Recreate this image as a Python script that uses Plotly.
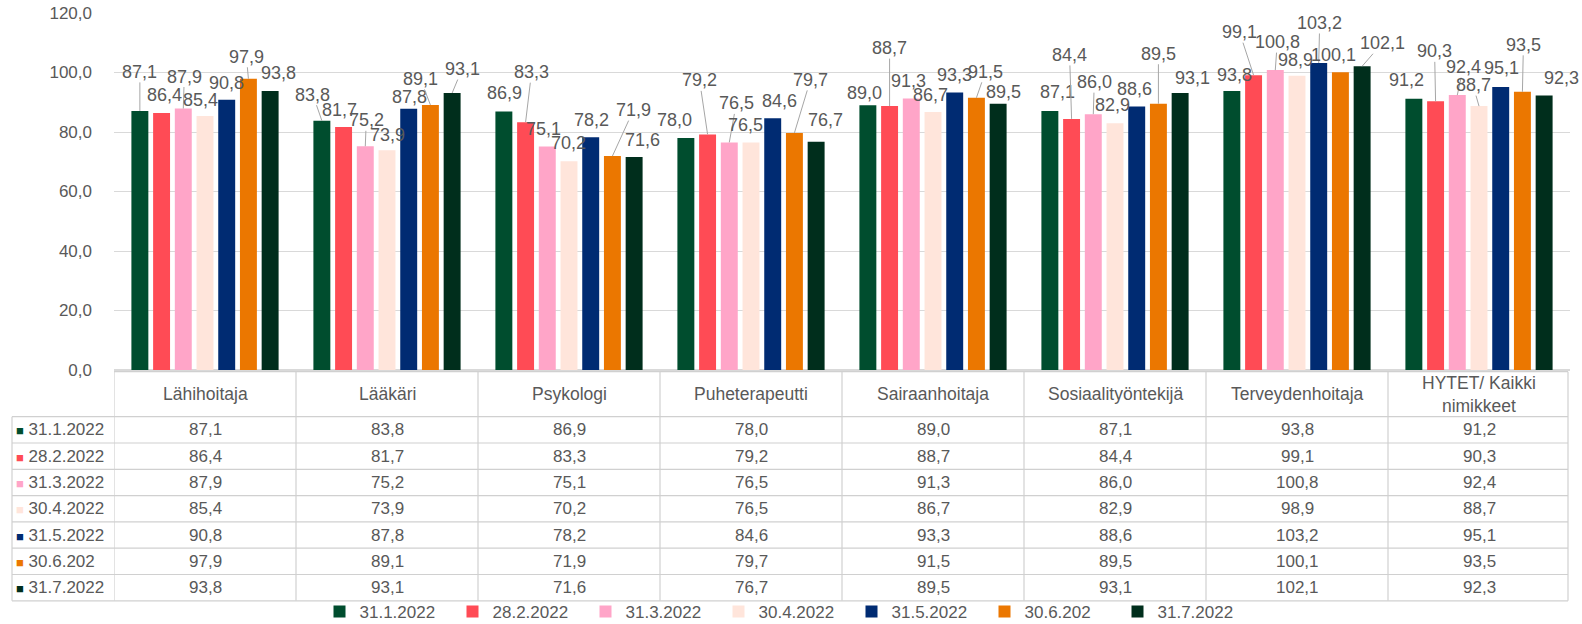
import plotly.graph_objects as go

# ---------------- data ----------------
categories = ["Lähihoitaja", "Lääkäri", "Psykologi", "Puheterapeutti", "Sairaanhoitaja",
              "Sosiaalityöntekijä", "Terveydenhoitaja", "HYTET/ Kaikki nimikkeet"]
header_labels = ["Lähihoitaja", "Lääkäri", "Psykologi", "Puheterapeutti", "Sairaanhoitaja",
                 "Sosiaalityöntekijä", "Terveydenhoitaja", "HYTET/ Kaikki<br>nimikkeet"]
series_names = ["31.1.2022", "28.2.2022", "31.3.2022", "30.4.2022", "31.5.2022", "30.6.202", "31.7.2022"]
v_jan = [87.1, 83.8, 86.9, 78.0, 89.0, 87.1, 93.8, 91.2]
v_feb = [86.4, 81.7, 83.3, 79.2, 88.7, 84.4, 99.1, 90.3]
v_mar = [87.9, 75.2, 75.1, 76.5, 91.3, 86.0, 100.8, 92.4]
v_apr = [85.4, 73.9, 70.2, 76.5, 86.7, 82.9, 98.9, 88.7]
v_may = [90.8, 87.8, 78.2, 84.6, 93.3, 88.6, 103.2, 95.1]
v_jun = [97.9, 89.1, 71.9, 79.7, 91.5, 89.5, 100.1, 93.5]
v_jul = [93.8, 93.1, 71.6, 76.7, 89.5, 93.1, 102.1, 92.3]
series_values = [v_jan, v_feb, v_mar, v_apr, v_may, v_jun, v_jul]
y_ticks = [0, 20, 40, 60, 80, 100, 120]

# ---------------- style ----------------
colors = ["#004D2E", "#FF4B55", "#FFA5C8", "#FFE5DB", "#002B72", "#EB7700", "#002E1C"]
TXT = "#595959"
GRID = "#D9D9D9"
FONT = "Liberation Sans, Arial, sans-serif"

# data-label placement (pixel offsets of label centre from bar top), per category then series
LABEL_DX = [[0, 3, 1, -5, 0, -2, 8], [-9, -4, 1, 0, 1, -10, 10], [1, 6, -4, -1, 1, 21, 8],
            [-11, -8, 7, -6, 7, 16, 9], [-3, 0, -3, -3, 0, 9, 5], [8, -2, 1, -3, -2, 0, 12],
            [3, -14, 2, -2, 1, -7, 20], [-7, -1, 6, -6, 1, 1, 17]]
LABEL_DY = [[-39, -18, -32, -16, -17, -22, -18], [-26, -17, -26, -15, -12, -26, -24],
            [-18, -50, -18, -18, -17, -46, -17], [-18, -54, -39, -17, -17, -53, -22],
            [-12, -58, -17, -17, -17, -26, -12], [-19, -64, -32, -18, -17, -50, -15],
            [-16, -43, -28, -16, -40, -17, -23], [-19, -50, -28, -21, -19, -47, -17]]
LEADER = [[1, 0, 1, 0, 0, 1, 0], [1, 0, 1, 0, 0, 1, 1], [0, 1, 0, 0, 0, 1, 0],
          [0, 1, 1, 0, 0, 1, 0], [0, 1, 0, 0, 0, 1, 0], [0, 1, 1, 0, 0, 1, 0],
          [0, 1, 1, 0, 1, 0, 1], [0, 1, 1, 1, 0, 1, 0]]

W, H = 1582, 624
ML, MR, MT, MB = 114, 12, 13, 254
PW, PH = W - ML - MR, H - MT - MB
BARGAP, BARGROUPGAP = 0.165, 0.22


def fmt(v):
    return f"{v:.1f}".replace(".", ",")


def px_x(X):
    return (X - ML) / PW


def px_y(Y):
    return (H - MB - Y) / PH


fig = go.Figure()
n = len(series_names)
for i, (name, vals) in enumerate(zip(series_names, series_values)):
    fig.add_trace(go.Bar(x=list(range(len(categories))), y=vals, name=name,
                         marker=dict(color=colors[i], line=dict(width=0)),
                         hovertext=categories, hoverinfo="text+y+name"))

annotations = []
slot = (1 - BARGAP) / n
for i, vals in enumerate(series_values):
    for k, v in enumerate(vals):
        xb = k + (i - (n - 1) / 2) * slot
        dx, dy = LABEL_DX[k][i], LABEL_DY[k][i]
        base = dict(x=xb, y=v, xref="x", yref="y", text=fmt(v),
                    font=dict(size=18, color=TXT, family=FONT))
        if LEADER[k][i]:
            annotations.append(dict(**base, showarrow=True, arrowhead=0, arrowwidth=1,
                                    arrowcolor="#A6A6A6", ax=dx, ay=dy, standoff=0,
                                    startstandoff=0, borderpad=0))
        else:
            annotations.append(dict(**base, showarrow=False, xshift=dx, yshift=-dy,
                                    yanchor="middle"))

# ---------------- data table below the plot ----------------
head_top, head_bot = 371.7, 416.7
row_h = 26.3
row_lines = [head_bot + r * row_h for r in range(n + 1)]
label_left = 12
right_edge = ML + PW - 2
shapes = []
lc = dict(color="#D0D0D0", width=1.2)
shapes.append(dict(type="line", xref="paper", yref="paper", x0=px_x(ML), x1=px_x(right_edge),
                   y0=px_y(head_top), y1=px_y(head_top), line=lc))
for Y in row_lines:
    shapes.append(dict(type="line", xref="paper", yref="paper", x0=px_x(label_left),
                       x1=px_x(right_edge), y0=px_y(Y), y1=px_y(Y), line=lc))
shapes.append(dict(type="line", xref="paper", yref="paper", x0=px_x(label_left), x1=px_x(label_left),
                   y0=px_y(head_bot), y1=px_y(row_lines[-1]), line=lc))
for k in range(len(categories)):
    shapes.append(dict(type="line", xref="x", yref="paper", x0=k - 0.5, x1=k - 0.5,
                       y0=px_y(head_top), y1=px_y(row_lines[-1]), line=lc))
shapes.append(dict(type="line", xref="paper", yref="paper", x0=px_x(right_edge), x1=px_x(right_edge),
                   y0=px_y(head_top), y1=px_y(row_lines[-1]), line=lc))

for k, h in enumerate(header_labels):
    annotations.append(dict(x=k, y=px_y((head_top + head_bot) / 2), xref="x", yref="paper",
                            text=h, showarrow=False, yanchor="middle",
                            font=dict(size=17.5, color=TXT, family=FONT)))
for i, (name, vals) in enumerate(zip(series_names, series_values)):
    yc = px_y(head_bot + (i + 0.5) * row_h)
    annotations.append(dict(x=px_x(14), y=yc, xref="paper", yref="paper", xanchor="left",
                            yanchor="middle", showarrow=False,
                            text=f"<span style='color:{colors[i]};font-size:13px'>■</span> {name}",
                            font=dict(size=17, color=TXT, family=FONT)))
    for k, v in enumerate(vals):
        annotations.append(dict(x=k, y=yc, xref="x", yref="paper", text=fmt(v), showarrow=False,
                                yanchor="middle", font=dict(size=17, color=TXT, family=FONT)))

fig.update_layout(
    width=W, height=H,
    margin=dict(l=ML, r=MR, t=MT, b=MB, autoexpand=False),
    paper_bgcolor="white", plot_bgcolor="white",
    separators=", ",
    barmode="group", bargap=BARGAP, bargroupgap=BARGROUPGAP,
    font=dict(family=FONT, color=TXT, size=17),
    xaxis=dict(range=[-0.5, len(categories) - 0.5], showticklabels=False, showgrid=False,
               zeroline=False, showline=False, ticks=""),
    yaxis=dict(range=[0, 120], tickvals=y_ticks, tickformat=".1f", showgrid=True, gridcolor=GRID,
               gridwidth=1, zeroline=True, zerolinecolor=GRID, showline=False, ticks="",
               ticklabelstandoff=21, tickfont=dict(size=17, color=TXT, family=FONT)),
    showlegend=True,
    legend=dict(orientation="h", x=px_x(785), xanchor="center", y=px_y(612), yanchor="middle",
                font=dict(size=17, color=TXT, family=FONT), itemwidth=30, bgcolor="rgba(0,0,0,0)",
                traceorder="normal", entrywidth=88, entrywidthmode="pixels"),
    shapes=shapes,
    annotations=annotations,
)

fig.write_html("out.html", config={"displayModeBar": False},
               post_script="document.body.style.margin='0px';document.body.style.overflow='hidden';")
